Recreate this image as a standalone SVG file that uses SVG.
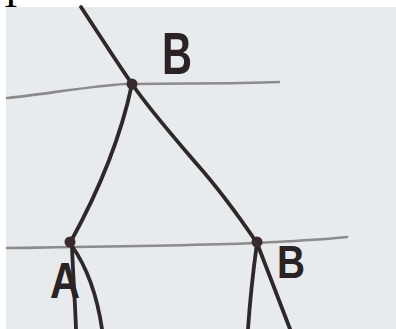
<svg xmlns="http://www.w3.org/2000/svg" width="396" height="329" viewBox="0 0 396 329">
<style>
.ink{fill:none;stroke:#2f2828;stroke-width:3.8;stroke-linecap:round;stroke-linejoin:round}
.rule{fill:none;stroke:#8c8a8c;stroke-width:2.6;stroke-linecap:round}
.dot{fill:#3a2c2e}
.lbl{font-family:"Liberation Sans",Arial,sans-serif;font-weight:bold;fill:#2a2224}
</style>
<rect width="396" height="329" fill="#ffffff"/>
<rect x="6" y="7" width="390" height="322" fill="#e7ebed"/>
<text x="4.5" y="6.5" font-family="Liberation Serif,serif" font-size="46" fill="#000">l</text>
<g id="rules">
<path class="rule" d="M7,98 C40,95 90,86 125,84 C180,83 230,84 279,82"/>
<path class="rule" d="M7,248 C80,247 180,246 257,243 C290,241 320,240 347,237"/>
</g>
<g id="connectors">
<path class="ink" d="M81,7 C100,36 118,64 132,84 C150,110 172,135 195,162 C220,190 240,218 257,243 L290,329"/>
<path class="ink" d="M132,84 Q116,160 70,243"/>
<path class="ink" d="M72,246 C73,275 75,300 76,329"/>
<path class="ink" d="M72,246 C86,266 97,295 102,329"/>
<path class="ink" d="M257,243 C253,272 250,300 248,329"/>
</g>
<g id="node-top">
<circle class="dot" cx="132" cy="84" r="5.5"/>
<text class="lbl" x="162" y="74" font-size="60" textLength="30" lengthAdjust="spacingAndGlyphs">B</text>
</g>
<g id="node-left">
<circle class="dot" cx="70" cy="242" r="5.5"/>
<text class="lbl" x="50" y="298" font-size="50" textLength="30" lengthAdjust="spacingAndGlyphs">A</text>
</g>
<g id="node-right">
<circle class="dot" cx="257" cy="242" r="5.5"/>
<text class="lbl" x="277" y="278" font-size="46" textLength="28" lengthAdjust="spacingAndGlyphs">B</text>
</g>
</svg>
